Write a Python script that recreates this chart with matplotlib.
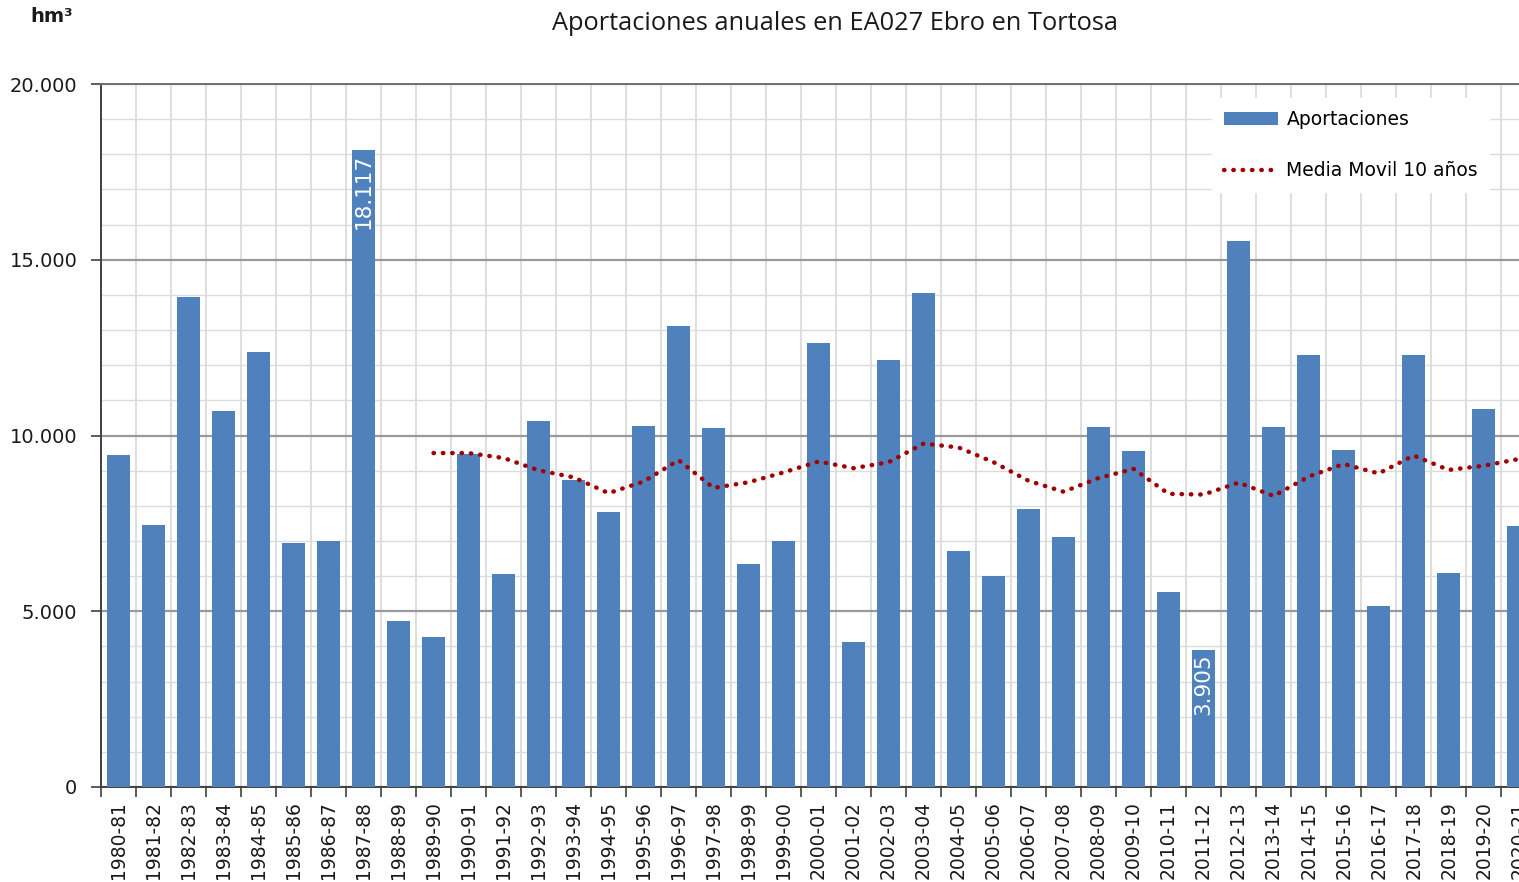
import numpy as np
import matplotlib
matplotlib.use('Agg')
import matplotlib.pyplot as plt
from matplotlib.ticker import FixedLocator, FuncFormatter, MultipleLocator

# Data
years = ["1980-81", "1981-82", "1982-83", "1983-84", "1984-85", "1985-86", "1986-87",
         "1987-88", "1988-89", "1989-90", "1990-91", "1991-92", "1992-93", "1993-94",
         "1994-95", "1995-96", "1996-97", "1997-98", "1998-99", "1999-00", "2000-01",
         "2001-02", "2002-03", "2003-04", "2004-05", "2005-06", "2006-07", "2007-08",
         "2008-09", "2009-10", "2010-11", "2011-12", "2012-13", "2013-14", "2014-15",
         "2015-16", "2016-17", "2017-18", "2018-19", "2019-20", "2020-21"]
aportaciones = [9445, 7454, 13940, 10697, 12375, 6942, 6999, 18117, 4723, 4267,
                9474, 6060, 10413, 8734, 7824, 10270, 13115, 10213, 6344, 6999,
                12632, 4125, 12148, 14054, 6714, 6003, 7909, 7112, 10242, 9559,
                5548, 3905, 15533, 10242, 12290, 9587, 5149, 12290, 6088, 10754, 7425]
# moving average (starts at 1989-90)
media_movil = [9500, 9500, 9360, 9010, 8810, 8360, 8690, 9300, 8510, 8670, 8950,
               9260, 9070, 9240, 9770, 9660, 9240, 8710, 8400, 8790, 9050, 8340,
               8320, 8660, 8280, 8830, 9190, 8920, 9430, 9020, 9140, 9330]
ma_start = 9
etiquetas = {"1987-88": "18.117", "2011-12": "3.905"}

BLUE = "#4F81BD"
RED = "#A00000"

plt.rcParams['font.family'] = ['DejaVu Sans']

fig = plt.figure(figsize=(15.19, 8.82), dpi=100)
ax = fig.add_axes([101 / 1519, 1 - 787 / 882, 1 - 101 / 1519, (787 - 84) / 882])

x = np.arange(len(years))
bars = ax.bar(x, aportaciones, width=0.66, color=BLUE, zorder=3, label="Aportaciones")
xm = x[ma_start:ma_start + len(media_movil)]
ax.plot(xm, media_movil, color=RED, linestyle=(0, (0.1, 2.0)), linewidth=3.2,
        dash_capstyle='round', zorder=4, label="Media Movil 10 años")

# data labels inside the two highlighted bars
for i, yr in enumerate(years):
    if yr in etiquetas:
        ax.text(i, aportaciones[i] - 100, etiquetas[yr], rotation=90, ha='center', va='top',
                color='white', fontsize=15.5, zorder=5)

ax.set_xlim(-0.5, 40.01)
ax.set_ylim(0, 20000)

# x axis: labels at centres, tick marks and grid at boundaries
ax.xaxis.set_major_locator(FixedLocator(x))
ax.set_xticklabels(years, rotation=90, fontsize=13.5, color='#1a1a1a')
ax.xaxis.set_minor_locator(FixedLocator(np.arange(-0.5, len(years), 1.0)))
ax.tick_params(axis='x', which='major', length=0, pad=10)
ax.tick_params(axis='x', which='minor', length=7, width=1.2, color='#404040')
ax.grid(axis='x', which='minor', color='#d4d4d4', linewidth=1.1, zorder=0)

# y axis
ax.yaxis.set_major_locator(MultipleLocator(5000))
ax.yaxis.set_minor_locator(MultipleLocator(1000))
ax.yaxis.set_major_formatter(FuncFormatter(lambda v, p: f"{int(v):,}".replace(",", ".")))
ax.tick_params(axis='y', which='major', length=7, width=1.2, color='#404040',
               labelsize=14, labelcolor='#1a1a1a', pad=10)
ax.tick_params(axis='y', which='minor', length=0)
ax.grid(axis='y', which='major', color='#9a9a9a', linewidth=1.6, zorder=1)
ax.grid(axis='y', which='minor', color='#dcdcdc', linewidth=1.0, zorder=0)

for side in ['left', 'bottom']:
    ax.spines[side].set_color('#404040')
    ax.spines[side].set_linewidth(1.4)
ax.spines['top'].set_color('#707070')
ax.spines['top'].set_linewidth(1.4)
ax.spines['right'].set_visible(False)

handles, labels = ax.get_legend_handles_labels()
order = [labels.index("Aportaciones"), labels.index("Media Movil 10 años")]
leg = ax.legend([handles[k] for k in order], [labels[k] for k in order],
                loc='upper left', bbox_to_anchor=((1203 - 101) / 1418, 1 - (89 - 84) / 703),
                fontsize=13.5, frameon=True, facecolor='white', edgecolor='white',
                framealpha=1, handlelength=2.9, handleheight=0.7, handletextpad=0.45,
                labelspacing=1.75, borderpad=0.6, fancybox=False)
leg.set_zorder(10)

fig.text(835 / 1519, 1 - 23 / 882, "Aportaciones anuales en EA027 Ebro en Tortosa",
         ha='center', va='center', fontsize=18.3, family=['Open Sans', 'DejaVu Sans'],
         color='#1a1a1a')
fig.text(30 / 1519, 1 - 17 / 882, "hm³", ha='left', va='center', fontsize=14,
         fontweight='bold', color='#1a1a1a')

fig.savefig("out.png", dpi=100)
